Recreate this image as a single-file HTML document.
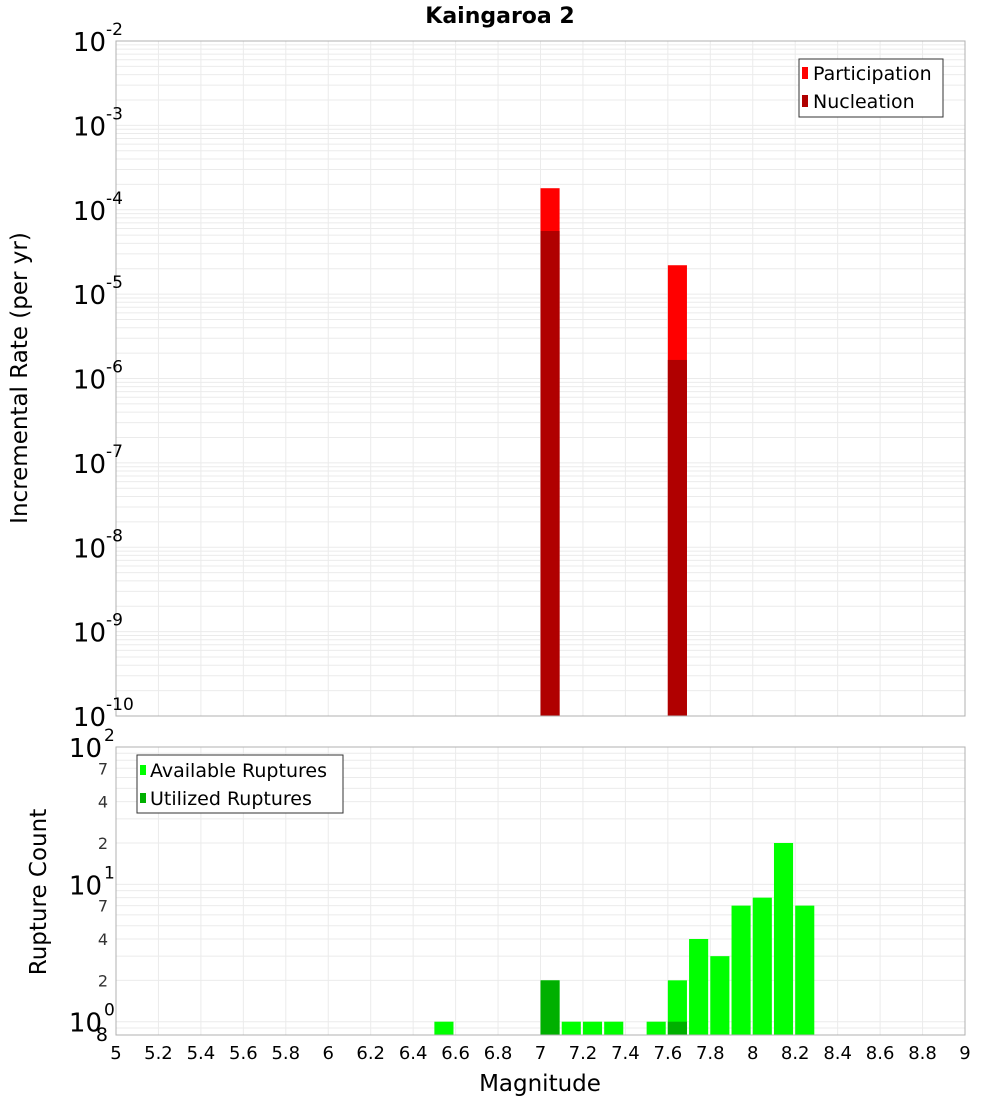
<!DOCTYPE html>
<html><head><meta charset="utf-8"><style>
body{margin:0;background:#fff;}
svg text{font-family:"DejaVu Sans","Liberation Sans",sans-serif;}
</style></head><body>
<svg id="c" width="1000" height="1100" xmlns="http://www.w3.org/2000/svg"></svg>
<script>
const binCenters=[7.05,7.65];
const participation=[1.8e-4,2.2e-5];
const nucleation=[5.6e-5,1.66e-6];
const countCenters=[6.55,7.05,7.15,7.25,7.35,7.55,7.65,7.75,7.85,7.95,8.05,8.15,8.25];
const available=[1,2,1,1,1,1,2,4,3,7,8,20,7];
const utilizedCenters=[7.05,7.65];
const utilized=[2,1];
const xTicks=[5,5.2,5.4,5.6,5.8,6,6.2,6.4,6.6,6.8,7,7.2,7.4,7.6,7.8,8,8.2,8.4,8.6,8.8,9];
const topExps=[-2,-3,-4,-5,-6,-7,-8,-9,-10];
const botMinorLabels=[2,4,7,20,40,70];

const svg=document.getElementById('c');
const NS='http://www.w3.org/2000/svg';
function mk(tag,attrs,parent){const e=document.createElementNS(NS,tag);for(const k in attrs)e.setAttribute(k,attrs[k]);(parent||svg).appendChild(e);return e;}
const L=116,R=965;
const T1=41,B1=716,T2=747,B2=1035;
const x=v=>L+(v-5)/4*(R-L);
const y1=v=>T1+(-2-Math.log10(v))/8*(B1-T1);
const lmin2=Math.log10(0.8),lmax2=2;
const y2=v=>T2+(lmax2-Math.log10(v))/(lmax2-lmin2)*(B2-T2);

const g1=mk('g',{});
for(let d=-10;d<-2;d++)for(let m=1;m<10;m++){const yy=y1(m*Math.pow(10,d));mk('line',{x1:L,x2:R,y1:yy,y2:yy,stroke:'#ebebeb','stroke-width':1},g1);}
const g2=mk('g',{});
for(let d=-1;d<2;d++)for(let m=1;m<10;m++){const v=m*Math.pow(10,d);if(v<0.8)continue;const yy=y2(v);mk('line',{x1:L,x2:R,y1:yy,y2:yy,stroke:'#ebebeb','stroke-width':1},g2);}
xTicks.forEach(t=>{const xx=x(t);mk('line',{x1:xx,x2:xx,y1:T1,y2:B1,stroke:'#ebebeb'},g1);mk('line',{x1:xx,x2:xx,y1:T2,y2:B2,stroke:'#ebebeb'},g2);});

const bw=0.09;
binCenters.forEach((c,i)=>{
 const r=mk('rect',{x:x(c-0.05),width:x(c-0.05+bw)-x(c-0.05),y:y1(participation[i]),height:B1-y1(participation[i]),fill:'#ff0000'});
 
 const n=mk('rect',{x:x(c-0.05),width:x(c-0.05+bw)-x(c-0.05),y:y1(nucleation[i]),height:B1-y1(nucleation[i]),fill:'#b00000'});
 
});
countCenters.forEach((c,i)=>{
 const r=mk('rect',{x:x(c-0.05),width:x(c-0.05+bw)-x(c-0.05),y:y2(available[i]),height:B2-y2(available[i]),fill:'#00ff00'});
 
});
utilizedCenters.forEach((c,i)=>{
 const r=mk('rect',{x:x(c-0.05),width:x(c-0.05+bw)-x(c-0.05),y:y2(utilized[i]),height:B2-y2(utilized[i]),fill:'#00b000'});
 
});
mk('rect',{x:L,y:T1,width:R-L,height:B1-T1,fill:'none',stroke:'#b0b0b0'});
mk('rect',{x:L,y:T2,width:R-L,height:B2-T2,fill:'none',stroke:'#b0b0b0'});

topExps.forEach(e=>{
 const yy=y1(Math.pow(10,e));
 const t=mk('text',{x:106,y:yy+10,'font-size':26,'text-anchor':'end',fill:'#000'});
 
 t.textContent='10';
 const s=mk('text',{x:106,y:yy-6,'font-size':17,fill:'#000'});
 
 s.textContent=String(e);
});
[2,1,0].forEach(e=>{
 const yy=y2(Math.pow(10,e));
 const t=mk('text',{x:102,y:yy+10,'font-size':26,'text-anchor':'end',fill:'#000'});
 
 t.textContent='10';
 const s=mk('text',{x:104,y:yy-6,'font-size':17,fill:'#000'});
 
 s.textContent=String(e);
});
botMinorLabels.forEach(v=>{
 const yy=y2(v);
 const t=mk('text',{x:108,y:yy+6,'font-size':16,'text-anchor':'end',fill:'#333'});
 
 t.textContent=String(v).charAt(0);
});
{const t=mk('text',{x:108,y:B2+6,'font-size':19,'text-anchor':'end',fill:'#000'});t.textContent='8';}
xTicks.forEach(v=>{
 const t=mk('text',{x:x(v),y:1059,'font-size':18,'text-anchor':'middle',fill:'#000'});
 
 t.textContent=String(v);
});
</script>
<svg width="1000" height="1100" style="position:absolute;left:0;top:0" xmlns="http://www.w3.org/2000/svg">
<text x="500" y="23" font-size="22" font-weight="bold" text-anchor="middle" font-family="DejaVu Sans,sans-serif">Kaingaroa 2</text>
<text x="540" y="1091" font-size="23" text-anchor="middle" font-family="DejaVu Sans,sans-serif">Magnitude</text>
<text transform="translate(27,378) rotate(-90)" font-size="23" text-anchor="middle" font-family="DejaVu Sans,sans-serif">Incremental Rate (per yr)</text>
<text transform="translate(46,892) rotate(-90)" font-size="23" text-anchor="middle" font-family="DejaVu Sans,sans-serif">Rupture Count</text>
<g>
<rect x="799" y="59" width="144" height="58" fill="#fff" stroke="#333"/>
<rect x="802" y="67" width="6" height="12" fill="#ff0000"/>
<text x="813" y="80" font-size="19" font-family="DejaVu Sans,sans-serif">Participation</text>
<rect x="802" y="95" width="6" height="12" fill="#b00000"/>
<text x="813" y="108" font-size="19" font-family="DejaVu Sans,sans-serif">Nucleation</text>
</g>
<g>
<rect x="137" y="755" width="206" height="58" fill="#fff" stroke="#333"/>
<rect x="140" y="765" width="6" height="10" fill="#00ff00"/>
<text x="150" y="777" font-size="19" font-family="DejaVu Sans,sans-serif">Available Ruptures</text>
<rect x="140" y="793" width="6" height="10" fill="#00b000"/>
<text x="150" y="805" font-size="19" font-family="DejaVu Sans,sans-serif">Utilized Ruptures</text>
</g>
</svg>
</body></html>
